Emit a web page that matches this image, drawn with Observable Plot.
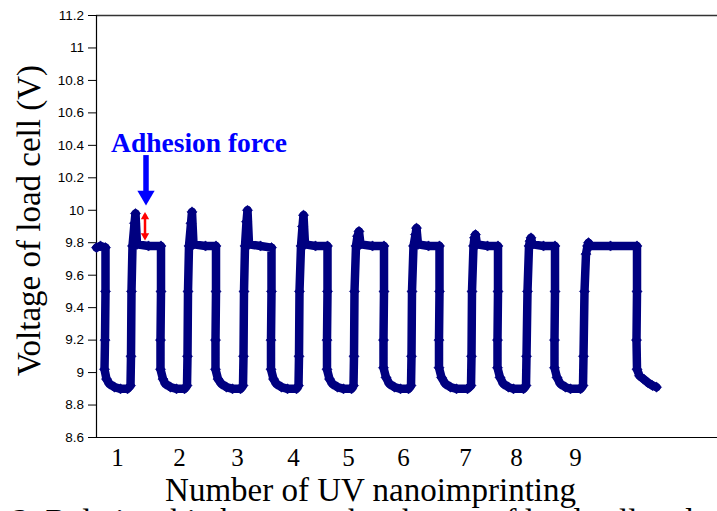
<!DOCTYPE html>
<html>
<head>
<meta charset="utf-8">
<script src="https://cdn.jsdelivr.net/npm/d3@7"></script>
<script src="https://cdn.jsdelivr.net/npm/@observablehq/plot@0.6"></script>
<style>
  html, body { margin: 0; padding: 0; background: #fff; overflow: hidden; }
  #chart svg { display: block; }
</style>
</head>
<body>
<div id="chart"></div>
<script>
// Time axis (arbitrary units) and load-cell voltage (V)
const timeValues = [
  0, 4, 9, 9, 8.5, 8, 10, 13, 18, 24, 31, 34,
  34.5, 35, 36, 38, 39, 40.5, 52, 64.5,
  64.5, 64, 64, 66.5, 69, 74, 80, 88, 90.5,
  91, 91.5, 92.5, 94.5, 95.5, 97, 109, 119.5,
  119.5, 119, 119, 121.5, 125, 130, 136, 144, 146.5,
  147, 147.5, 148.5, 150, 151, 152.5, 164, 175,
  175, 174.5, 174.5, 177, 180, 185, 191, 200, 202,
  202.5, 203, 204.5, 206, 207, 208.5, 219, 231,
  231, 230.5, 230.5, 233, 236, 241, 247, 255, 257,
  257.5, 258, 259.5, 261, 262.5, 264, 276, 287.5,
  287.5, 287, 287, 289.5, 293, 298, 304, 312, 314.5,
  315, 315.5, 317, 319, 320, 321.5, 332, 343,
  343, 342.5, 342.5, 345, 349, 354, 360, 371, 374.5,
  375, 375.5, 377, 378, 379, 380.5, 391, 401.5,
  401.5, 401, 401, 403.5, 407, 412, 417, 427, 429.5,
  430, 431, 432.5, 433.5, 434.5, 436, 447, 458.5,
  458.5, 458, 458, 460.5, 464, 469, 474, 484, 486.5,
  487, 488, 489.5, 491, 492, 494, 514, 540.5,
  540.5, 540, 540.5, 543, 547, 551, 556, 560
];
const voltValues = [
  9.77, 9.78, 9.77, 9.5, 9.2, 9.02, 8.96, 8.93, 8.91, 8.90, 8.90, 8.92,
  9.1, 9.5, 9.78, 9.92, 9.98, 9.79, 9.78, 9.78,
  9.5, 9.2, 9.02, 8.96, 8.93, 8.91, 8.90, 8.90, 8.92,
  9.1, 9.5, 9.78, 9.92, 9.99, 9.79, 9.78, 9.78,
  9.5, 9.2, 9.02, 8.96, 8.93, 8.91, 8.90, 8.90, 8.92,
  9.1, 9.5, 9.78, 9.93, 10.0, 9.79, 9.78, 9.77,
  9.5, 9.2, 9.02, 8.96, 8.93, 8.91, 8.90, 8.90, 8.92,
  9.1, 9.5, 9.78, 9.9, 9.97, 9.79, 9.78, 9.78,
  9.5, 9.2, 9.02, 8.96, 8.93, 8.91, 8.90, 8.90, 8.92,
  9.1, 9.5, 9.78, 9.84, 9.87, 9.79, 9.78, 9.78,
  9.5, 9.2, 9.03, 8.97, 8.93, 8.91, 8.90, 8.90, 8.92,
  9.1, 9.5, 9.78, 9.85, 9.89, 9.79, 9.78, 9.78,
  9.5, 9.2, 9.03, 8.97, 8.93, 8.91, 8.90, 8.90, 8.92,
  9.1, 9.5, 9.78, 9.83, 9.85, 9.79, 9.78, 9.78,
  9.5, 9.2, 9.03, 8.97, 8.93, 8.91, 8.90, 8.90, 8.92,
  9.1, 9.5, 9.78, 9.81, 9.83, 9.79, 9.78, 9.78,
  9.5, 9.2, 9.03, 8.97, 8.93, 8.91, 8.90, 8.90, 8.92,
  9.1, 9.5, 9.73, 9.78, 9.80, 9.78, 9.78, 9.78,
  9.5, 9.2, 9.02, 8.98, 8.96, 8.94, 8.92, 8.91
];

// Axis ticks
const yTicks = [8.6, 8.8, 9, 9.2, 9.4, 9.6, 9.8, 10, 10.2, 10.4, 10.6, 10.8, 11, 11.2];
const xTickTimes = [21, 83, 141, 197, 252, 307, 369, 420, 479];
const xTickLabels = ["1", "2", "3", "4", "5", "6", "7", "8", "9"];

// Texts
const yTitle = "Voltage of load cell (V)";
const xTitle = "Number of UV nanoimprinting";
const annotationText = "Adhesion force";
const captionText = "2. Relationship between the change of load cell and";

const data = timeValues.map((t, i) => ({t, v: voltValues[i]}));

const serif = "'Liberation Serif', 'Times New Roman', serif";
const sans = "'Liberation Sans', Arial, sans-serif";
const navy = "#000080";

const chart = Plot.plot({
  width: 717,
  height: 511,
  marginLeft: 96,
  marginRight: 0,
  marginTop: 15,
  marginBottom: 74,
  style: {background: "#fff", color: "#000"},
  x: {domain: [0, 621], axis: null},
  y: {domain: [8.6, 11.2], axis: null},
  marks: [
    Plot.ruleY([11.2], {stroke: "#333", strokeWidth: 1.5}),
    Plot.ruleY([8.6], {stroke: "#000", strokeWidth: 1.2}),
    Plot.ruleX([0], {stroke: "#000", strokeWidth: 1.2}),
    Plot.axisY(yTicks, {
      tickSize: 8, tickPadding: 4.5, stroke: "#000",
      tickFormat: d => String(+d.toFixed(1)),
      fontSize: 13.5, fontFamily: sans, fill: "#000", label: null
    }),
    Plot.axisX(xTickTimes, {
      tickSize: 0, tickPadding: 11,
      tickFormat: d => xTickLabels[xTickTimes.indexOf(d)],
      fontSize: 25, fontFamily: serif, fill: "#000", label: null
    }),
    Plot.line(data, {x: "t", y: "v", stroke: navy, strokeWidth: 8.5, strokeLinejoin: "round", strokeLinecap: "round"}),
    Plot.dot(data, {x: "t", y: "v", symbol: "diamond2", r: 4.6, fill: navy, stroke: navy, strokeWidth: 0.5}),
    // Annotation: blue arrow
    Plot.link([0], {x1: () => 49.5, x2: () => 49.5, y1: () => 10.34, y2: () => 10.105, stroke: "#0000ff", strokeWidth: 5.5}),
    Plot.dot([0], {x: () => 49.5, y: () => 10.09, symbol: "triangle", rotate: 180, r: 6.4, fill: "#0000ff", stroke: "none"}),
    // Red double arrow
    Plot.link([0], {x1: () => 48.5, x2: () => 48.5, y1: () => 9.975, y2: () => 9.83, stroke: "#ff0000", strokeWidth: 2.5}),
    Plot.dot([0], {x: () => 48.5, y: () => 9.96, symbol: "triangle", rotate: 0, r: 3.1, fill: "#ff0000", stroke: "none"}),
    Plot.dot([0], {x: () => 48.5, y: () => 9.843, symbol: "triangle", rotate: 180, r: 3.1, fill: "#ff0000", stroke: "none"}),
    Plot.text([annotationText], {
      x: () => 102.5, y: () => 10.358, text: d => d, textAnchor: "middle", lineAnchor: "bottom",
      fontSize: 27.5, fontWeight: "bold", fontFamily: serif, fill: "#0000ff"
    }),
    // Titles
    Plot.text([yTitle], {
      frameAnchor: "left", text: d => d, rotate: -90, textAnchor: "middle", lineAnchor: "bottom",
      dx: -57, dy: -6, fontSize: 33, fontFamily: serif, fill: "#000"
    }),
    Plot.text([xTitle], {
      frameAnchor: "bottom", text: d => d, textAnchor: "middle", lineAnchor: "bottom",
      dx: -36.5, dy: 63, fontSize: 33, fontFamily: serif, fill: "#000"
    }),
    Plot.text([captionText], {
      frameAnchor: "bottom-left", text: d => d, textAnchor: "start", lineAnchor: "bottom",
      dx: -84, dy: 94, fontSize: 33, fontFamily: serif, fill: "#000"
    })
  ]
});
document.getElementById("chart").appendChild(chart);
</script>
</body>
</html>
